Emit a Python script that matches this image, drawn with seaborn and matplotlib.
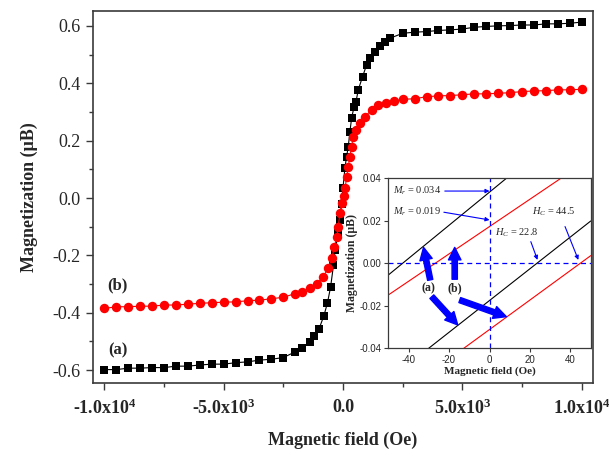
import numpy as np
import pandas as pd
import matplotlib
matplotlib.use("Agg")
import matplotlib.pyplot as plt
from matplotlib.ticker import MultipleLocator, FixedLocator
import seaborn as sns

# ---------------- data ----------------
field_a = [-10000, -9500, -9000, -8500, -8000, -7500, -7000, -6500, -6000, -5500,
           -5000, -4500, -4000, -3500, -3000, -2500, -2000, -1700, -1400, -1200,
           -1000, -800, -650, -520, -400, -330, -200, -130, -60, 0, 80, 150, 220,
           290, 360, 460, 545, 640, 820, 990, 1130, 1340, 1550, 1760, 1970,
           2500, 3000, 3500, 4000, 4500, 5000, 5500, 6000, 6500, 7000, 7500,
           8000, 8500, 9000, 9500, 10000]
mag_a = [-0.598, -0.598, -0.593, -0.593, -0.591, -0.591, -0.586, -0.586, -0.582, -0.579,
         -0.579, -0.574, -0.571, -0.565, -0.562, -0.556, -0.536, -0.522, -0.502, -0.480,
         -0.455, -0.410, -0.365, -0.310, -0.235, -0.180, -0.123, -0.075, -0.020, 0.035,
         0.105, 0.144, 0.179, 0.231, 0.278, 0.317, 0.336, 0.377, 0.423, 0.464, 0.487,
         0.510, 0.529, 0.545, 0.557,
         0.574, 0.578, 0.580, 0.584, 0.586, 0.589, 0.595, 0.598, 0.600, 0.601, 0.603,
         0.603, 0.607, 0.607, 0.609, 0.613]

field_b = [-10000, -9500, -9000, -8500, -8000, -7500, -7000, -6500, -6000, -5500,
           -5000, -4500, -4000, -3500, -3000, -2500, -2000, -1700, -1400, -1100,
           -830, -620, -470, -360, -260, -200, -130, -50, 40, 90, 155, 220, 290,
           360, 430, 530, 710, 920, 1200, 1480, 1800, 2150,
           2500, 3000, 3500, 4000, 4500, 5000, 5500, 6000, 6500, 7000, 7500,
           8000, 8500, 9000, 9500, 10000]
mag_b = [-0.385, -0.379, -0.379, -0.377, -0.377, -0.373, -0.373, -0.370, -0.367, -0.365,
         -0.363, -0.362, -0.358, -0.356, -0.351, -0.346, -0.333, -0.327, -0.315, -0.298,
         -0.274, -0.245, -0.210, -0.170, -0.135, -0.100, -0.053, -0.018, 0.008, 0.035,
         0.074, 0.109, 0.144, 0.179, 0.214, 0.237, 0.260, 0.284, 0.307, 0.324, 0.332,
         0.337,
         0.344, 0.346, 0.353, 0.356, 0.357, 0.360, 0.363, 0.363, 0.365, 0.367, 0.371,
         0.373, 0.374, 0.377, 0.377, 0.379]

x_ticks = [-10000, -5000, 0, 5000, 10000]
x_ticklabels = ["-1.0x10$^{\\mathbf{4}}$", "-5.0x10$^{\\mathbf{3}}$", "0.0",
                "5.0x10$^{\\mathbf{3}}$", "1.0x10$^{\\mathbf{4}}$"]
y_ticks = [-0.6, -0.4, -0.2, 0.0, 0.2, 0.4, 0.6]

# inset: linear branches near origin (field endpoints and magnetization)
inset_field = [-50, 50]
inset_a_upper = [-0.0055, 0.0725]
inset_a_lower = [-0.0549, 0.0199]
inset_b_upper = [-0.0149, 0.0495]
inset_b_lower = [-0.0659, 0.0036]
inset_xticks = [-40, -20, 0, 20, 40]
inset_yticks = [-0.04, -0.02, 0.00, 0.02, 0.04]

# ---------------- style ----------------
sns.set_style("ticks")
plt.rcParams['font.family'] = ['Liberation Serif', 'DejaVu Serif']
plt.rcParams['mathtext.fontset'] = 'custom'
plt.rcParams['mathtext.rm'] = 'Liberation Serif'
plt.rcParams['mathtext.it'] = 'Liberation Serif:italic'
plt.rcParams['mathtext.bf'] = 'Liberation Serif:bold'
plt.rcParams['axes.unicode_minus'] = False

spine_c = '#3a3a3a'
fig = plt.figure(figsize=(6.1, 4.63), dpi=100)
ax = fig.add_axes([0.152, 0.172, 0.8206, 0.805])

df_a = pd.DataFrame({'H': field_a, 'M': mag_a})
df_b = pd.DataFrame({'H': field_b, 'M': mag_b})
sns.lineplot(data=df_a, x='H', y='M', ax=ax, color='black', marker='s',
             markersize=6, markeredgewidth=0, linewidth=0.8, sort=False)
sns.lineplot(data=df_b, x='H', y='M', ax=ax, color='red', marker='o',
             markersize=6.8, markeredgewidth=0, linewidth=0.8, sort=False)

ax.set_xlim(-10490, 10490)
ax.set_ylim(-0.646, 0.653)
ax.xaxis.set_major_locator(FixedLocator(x_ticks))
ax.set_xticklabels(x_ticklabels, fontweight='bold', fontsize=13)
ax.xaxis.set_minor_locator(MultipleLocator(2500))
ax.yaxis.set_major_locator(FixedLocator(y_ticks))
ax.set_yticklabels([f"{v:.1f}" for v in y_ticks], fontsize=13)
ax.yaxis.set_minor_locator(MultipleLocator(0.1))
ax.tick_params(which='major', direction='out', length=5, width=1.0, color=spine_c, pad=4)
ax.tick_params(which='minor', direction='out', length=3, width=1.0, color=spine_c)
ax.tick_params(axis='x', pad=6)
for s in ax.spines.values():
    s.set_color(spine_c)
    s.set_linewidth(1.2)
ax.set_xlabel("Magnetic field (Oe)", fontsize=13, fontweight='bold', labelpad=10)
ax.set_ylabel("Magnetization (\u03bcB)", fontsize=13, fontweight='bold', labelpad=10)

ax.text(-9470, -0.303, "(b)", fontsize=12, fontweight='bold', ha='center', va='center')
ax.text(-9430, -0.530, "(a)", fontsize=12, fontweight='bold', ha='center', va='center')

# ---------------- inset ----------------
ins = fig.add_axes([0.6366, 0.2477, 0.3318, 0.3672])
ins.set_facecolor('white')
sns.lineplot(x=inset_field, y=inset_a_upper, ax=ins, color='black', linewidth=0.8)
sns.lineplot(x=inset_field, y=inset_a_lower, ax=ins, color='black', linewidth=0.8)
sns.lineplot(x=inset_field, y=inset_b_upper, ax=ins, color='red', linewidth=0.8)
sns.lineplot(x=inset_field, y=inset_b_lower, ax=ins, color='red', linewidth=0.8)
ins.axhline(0, color='blue', linestyle=(0, (4, 3)), linewidth=0.9)
ins.axvline(0, color='blue', linestyle=(0, (4, 3)), linewidth=0.9)
ins.set_xlim(-50, 50)
ins.set_ylim(-0.04, 0.04)
ins.xaxis.set_major_locator(FixedLocator(inset_xticks))
ins.yaxis.set_major_locator(FixedLocator(inset_yticks))
ins.set_xticklabels([str(v) for v in inset_xticks], fontsize=7, family='Liberation Sans')
ins.set_yticklabels([f"{v:.2f}" for v in inset_yticks], fontsize=7, family='Liberation Sans')
ins.tick_params(direction='out', length=3, width=0.8, color=spine_c, pad=2)
for s in ins.spines.values():
    s.set_color(spine_c)
    s.set_linewidth(0.9)
ins.set_xlabel("Magnetic field (Oe)", fontsize=8, fontweight='bold', labelpad=1)
ins.set_ylabel("Magnetization (\u03bcB)", fontsize=8.5, fontweight='bold', labelpad=1)

thin = dict(arrowstyle='-|>', color='blue', lw=0.8, mutation_scale=6, shrinkA=0, shrinkB=0)
ins.annotate("$M_r$ = 0.034", xy=(0, 0.034), xytext=(-47.5, 0.034), fontsize=7.5,
             ha='left', va='center', arrowprops=dict(thin, relpos=(1, 0.5)))
ins.annotate("$M_r$ = 0.019", xy=(0, 0.0204), xytext=(-47.8, 0.0243), fontsize=7.5,
             ha='left', va='center', arrowprops=dict(thin, relpos=(1, 0.5)))
ins.text(21.2, 0.0243, "$H_C$ = 44.5", fontsize=7.5, ha='left', va='center')
ins.annotate("", xy=(43.9, 0.0016), xytext=(37.3, 0.0173), arrowprops=thin)
ins.text(2.5, 0.0144, "$H_C$ = 22.8", fontsize=7.5, ha='left', va='center')
ins.annotate("", xy=(23.7, 0.0016), xytext=(20.4, 0.0102), arrowprops=thin)

thick = dict(arrowstyle='simple,head_width=0.9,head_length=0.9,tail_width=0.38',
             color='blue', mutation_scale=10, shrinkA=0, shrinkB=0)
ins.annotate("", xy=(-32.6, 0.0075), xytext=(-29.3, -0.0078), arrowprops=thick)
ins.annotate("", xy=(-17.2, 0.0075), xytext=(-17.2, -0.0075), arrowprops=thick)
ins.annotate("", xy=(-15.7, -0.029), xytext=(-28.5, -0.0157), arrowprops=thick)
ins.annotate("", xy=(8.3, -0.0251), xytext=(-14.7, -0.0173), arrowprops=thick)
ins.text(-30.1, -0.0118, "(a)", fontsize=8.5, fontweight='bold', ha='center', va='center')
ins.text(-17.2, -0.0118, "(b)", fontsize=8.5, fontweight='bold', ha='center', va='center')

fig.savefig("out.png", dpi=100)
